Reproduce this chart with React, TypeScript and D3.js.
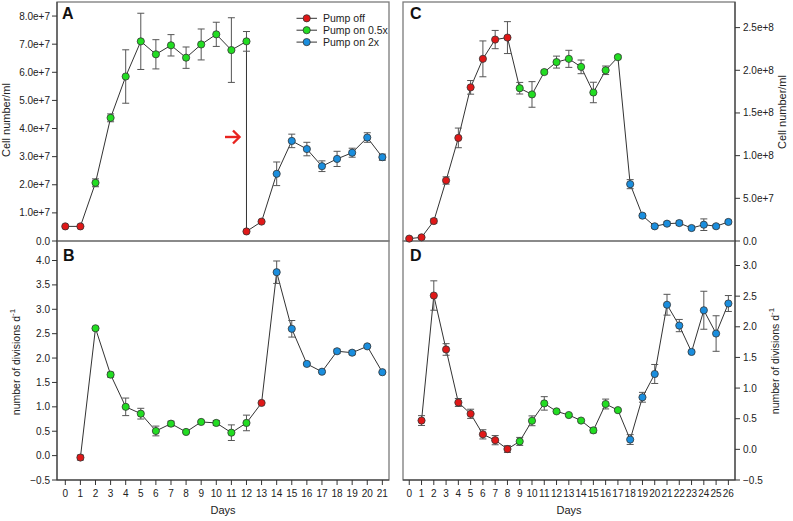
import React from "react";
import * as d3 from "d3";

// ---------- DATA ----------
const aDays = [0, 1, 2, 3, 4, 5, 6, 7, 8, 9, 10, 11, 12, 12, 13, 14, 15, 16, 17, 18, 19, 20, 21];
const aCells = [5.2e6, 5.2e6, 2.07e7, 4.38e7, 5.85e7, 7.1e7, 6.64e7, 6.96e7, 6.52e7, 6.99e7, 7.35e7, 6.79e7, 7.1e7, 3.4e6, 6.9e6, 2.39e7, 3.56e7, 3.27e7, 2.66e7, 2.92e7, 3.14e7, 3.68e7, 2.98e7];
const aErr = [0, 0, 1.4e6, 1.4e6, 9.5e6, 1.0e7, 5.2e6, 3.8e6, 3.8e6, 5.5e6, 4.3e6, 1.15e7, 3.5e6, 0, 0, 4.2e6, 2.4e6, 2.4e6, 1.9e6, 2.7e6, 1.6e6, 1.7e6, 1.1e6];
const aPhase = ["off", "off", "half", "half", "half", "half", "half", "half", "half", "half", "half", "half", "half", "off", "off", "double", "double", "double", "double", "double", "double", "double", "double"];

const bDays = [1, 2, 3, 4, 5, 6, 7, 8, 9, 10, 11, 12, 13, 14, 15, 16, 17, 18, 19, 20, 21];
const bRates = [-0.04, 2.61, 1.66, 1.0, 0.86, 0.505, 0.655, 0.485, 0.69, 0.67, 0.47, 0.67, 1.08, 3.76, 2.6, 1.88, 1.72, 2.14, 2.11, 2.24, 1.71];
const bErr = [0.05, 0.03, 0.05, 0.18, 0.11, 0.1, 0.05, 0.02, 0.02, 0.05, 0.16, 0.16, 0, 0.23, 0.17, 0.02, 0.02, 0.04, 0.04, 0.02, 0.02];
const bPhase = ["off", "half", "half", "half", "half", "half", "half", "half", "half", "half", "half", "half", "off", "double", "double", "double", "double", "double", "double", "double", "double"];

const cDays = [0, 1, 2, 3, 4, 5, 6, 7, 8, 9, 10, 11, 12, 13, 14, 15, 16, 17, 18, 19, 20, 21, 22, 23, 24, 25, 26];
const cCells = [2.8e6, 4.3e6, 2.34e7, 7.09e7, 1.208e8, 1.8e8, 2.134e8, 2.36e8, 2.383e8, 1.79e8, 1.717e8, 1.979e8, 2.096e8, 2.134e8, 2.04e8, 1.74e8, 2.0e8, 2.154e8, 6.66e7, 2.97e7, 1.72e7, 2.03e7, 2.1e7, 1.52e7, 1.91e7, 1.73e7, 2.23e7];
const cErr = [1e6, 1.5e6, 2.5e6, 4.3e6, 1.15e7, 8e6, 2.1e7, 1.07e7, 1.87e7, 6.8e6, 1.5e7, 2e6, 7e6, 1e7, 8e6, 1.2e7, 5e6, 2e6, 5.3e6, 2e6, 2e6, 2e6, 2.5e6, 2e6, 6.8e6, 2e6, 2e6];
const cPhase = ["off", "off", "off", "off", "off", "off", "off", "off", "off", "half", "half", "half", "half", "half", "half", "half", "half", "half", "double", "double", "double", "double", "double", "double", "double", "double", "double"];

const dDays = [1, 2, 3, 4, 5, 6, 7, 8, 9, 10, 11, 12, 13, 14, 15, 16, 17, 18, 19, 20, 21, 22, 23, 24, 25, 26];
const dRates = [0.47, 2.51, 1.63, 0.765, 0.58, 0.245, 0.15, 0.005, 0.13, 0.466, 0.75, 0.62, 0.56, 0.47, 0.31, 0.74, 0.64, 0.16, 0.85, 1.23, 2.36, 2.02, 1.59, 2.27, 1.89, 2.38];
const dErr = [0.08, 0.24, 0.095, 0.065, 0.075, 0.075, 0.075, 0.055, 0.065, 0.08, 0.11, 0.02, 0.02, 0.02, 0.04, 0.08, 0.02, 0.08, 0.08, 0.155, 0.17, 0.1, 0.02, 0.31, 0.29, 0.13];
const dPhase = ["off", "off", "off", "off", "off", "off", "off", "off", "half", "half", "half", "half", "half", "half", "half", "half", "half", "double", "double", "double", "double", "double", "double", "double", "double", "double"];

const abDayTicks = d3.range(0, 22);
const cdDayTicks = d3.range(0, 27);
const aTicks = [0, 1e7, 2e7, 3e7, 4e7, 5e7, 6e7, 7e7, 8e7];
const aTickLabels = ["0.0", "1.0e+7", "2.0e+7", "3.0e+7", "4.0e+7", "5.0e+7", "6.0e+7", "7.0e+7", "8.0e+7"];
const bTicks = [-0.5, 0, 0.5, 1, 1.5, 2, 2.5, 3, 3.5, 4];
const cTicks = [0, 5e7, 1e8, 1.5e8, 2e8, 2.5e8];
const cTickLabels = ["0.0", "5.0e+7", "1.0e+8", "1.5e+8", "2.0e+8", "2.5e+8"];
const dTicks = [-0.5, 0, 0.5, 1, 1.5, 2, 2.5, 3];

const legendLabels = ["Pump off", "Pump on 0.5x", "Pump on 2x"];
const legendKeys = ["off", "half", "double"];

// ---------- STYLE ----------
const COLORS: Record<string, string> = { off: "#e01818", half: "#22dd22", double: "#1a8ede" };
const FONT = "'Liberation Sans', Arial, sans-serif";
const FRAME = "#7a7a7a";
const AXIS = "#333";

const W = 793, H = 521;
const ABL = 57, ABR = 389, CDL = 403, CDR = 735;
const TOP = 2, MID = 241, BOT = 480;

const xAB = d3.scaleLinear().domain([-0.55, 21.44]).range([ABL, ABR]);
const xCD = d3.scaleLinear().domain([-0.51, 26.54]).range([CDL, CDR]);
const yA = d3.scaleLinear().domain([0, 8.5e7]).range([MID, TOP]);
const yB = d3.scaleLinear().domain([-0.5, 4.4]).range([BOT, MID]);
const yC = d3.scaleLinear().domain([0, 2.8e8]).range([MID, TOP]);
const yD = d3.scaleLinear().domain([-0.5, 3.4]).range([BOT, MID]);

type S = { days: number[]; vals: number[]; err: number[]; phase: string[] };

function Series({ s, x, y }: { s: S; x: d3.ScaleLinear<number, number>; y: d3.ScaleLinear<number, number> }) {
  const pts = s.days.map((d, i) => ({ d, v: s.vals[i], e: s.err[i], p: s.phase[i] }));
  const line = d3.line<typeof pts[0]>().x((p) => x(p.d)).y((p) => y(p.v));
  return (
    <g>
      <path d={line(pts) || ""} fill="none" stroke="#333" strokeWidth={1} />
      {pts.map((p, i) =>
        p.e > 0 ? (
          <g key={"e" + i} stroke="#555" strokeWidth={1}>
            <line x1={x(p.d)} x2={x(p.d)} y1={y(p.v - p.e)} y2={y(p.v + p.e)} />
            <line x1={x(p.d) - 3.5} x2={x(p.d) + 3.5} y1={y(p.v - p.e)} y2={y(p.v - p.e)} />
            <line x1={x(p.d) - 3.5} x2={x(p.d) + 3.5} y1={y(p.v + p.e)} y2={y(p.v + p.e)} />
          </g>
        ) : null
      )}
      {pts.map((p, i) => (
        <circle key={"c" + i} cx={x(p.d)} cy={y(p.v)} r={3.6} fill={COLORS[p.p]} stroke="#333" strokeWidth={0.8} />
      ))}
    </g>
  );
}

function YAxisLeft({ ticks, labels, y, xPos }: { ticks: number[]; labels: string[]; y: any; xPos: number }) {
  return (
    <g>
      {ticks.map((t, i) => (
        <g key={i}>
          <line x1={xPos - 5} x2={xPos} y1={y(t)} y2={y(t)} stroke={AXIS} strokeWidth={1} />
          <text x={xPos - 7} y={y(t)} dy="0.35em" textAnchor="end" fontSize={10} fontFamily={FONT} fill="#222">
            {labels[i]}
          </text>
        </g>
      ))}
    </g>
  );
}

function YAxisRight({ ticks, labels, y, xPos }: { ticks: number[]; labels: string[]; y: any; xPos: number }) {
  return (
    <g>
      {ticks.map((t, i) => (
        <g key={i}>
          <line x1={xPos} x2={xPos + 5} y1={y(t)} y2={y(t)} stroke={AXIS} strokeWidth={1} />
          <text x={xPos + 8} y={y(t)} dy="0.35em" textAnchor="start" fontSize={10} fontFamily={FONT} fill="#222">
            {labels[i]}
          </text>
        </g>
      ))}
    </g>
  );
}

function XAxis({ ticks, x, yPos }: { ticks: number[]; x: any; yPos: number }) {
  return (
    <g>
      {ticks.map((t) => (
        <g key={t}>
          <line x1={x(t)} x2={x(t)} y1={yPos} y2={yPos + 5} stroke={AXIS} strokeWidth={1} />
          <text x={x(t)} y={yPos + 17} textAnchor="middle" fontSize={10} fontFamily={FONT} fill="#222">
            {t}
          </text>
        </g>
      ))}
    </g>
  );
}

export default function App() {
  const fmtRate = (v: number) => d3.format(".1f")(v);
  return (
    <svg width={W} height={H} style={{ position: "absolute", left: 0, top: 0, background: "#fff" }}>
      <rect x={0} y={0} width={W} height={H} fill="#fff" />
      {/* Frames */}
      <g fill="none" stroke={FRAME} strokeWidth={1.3}>
        <rect x={ABL} y={TOP} width={ABR - ABL} height={MID - TOP} />
        <rect x={ABL} y={MID} width={ABR - ABL} height={BOT - MID} />
        <rect x={CDL} y={TOP} width={CDR - CDL} height={MID - TOP} />
        <rect x={CDL} y={MID} width={CDR - CDL} height={BOT - MID} />
      </g>
      <g stroke={AXIS} strokeWidth={1}>
        <line x1={ABL} x2={ABL} y1={TOP} y2={BOT} />
        <line x1={ABL} x2={ABR} y1={BOT} y2={BOT} />
        <line x1={CDR} x2={CDR} y1={TOP} y2={BOT} />
        <line x1={CDL} x2={CDR} y1={BOT} y2={BOT} />
      </g>

      {/* Axes */}
      <YAxisLeft ticks={aTicks} labels={aTickLabels} y={yA} xPos={ABL} />
      <YAxisLeft ticks={bTicks} labels={bTicks.map(fmtRate)} y={yB} xPos={ABL} />
      <YAxisRight ticks={cTicks} labels={cTickLabels} y={yC} xPos={CDR} />
      <YAxisRight ticks={dTicks} labels={dTicks.map(fmtRate)} y={yD} xPos={CDR} />
      <XAxis ticks={abDayTicks} x={xAB} yPos={BOT} />
      <XAxis ticks={cdDayTicks} x={xCD} yPos={BOT} />

      {/* Axis titles */}
      <g fontFamily={FONT} fontSize={11} fill="#222">
        <text transform="translate(10,120) rotate(-90)" textAnchor="middle">Cell number/ml</text>
        <text transform="translate(20,362) rotate(-90)" textAnchor="middle" fontSize={10.5}>
          number of divisions d<tspan dy="-5" fontSize={8}>-1</tspan>
        </text>
        <text transform="translate(786,112) rotate(-90)" textAnchor="middle">Cell number/ml</text>
        <text transform="translate(779,361) rotate(-90)" textAnchor="middle" fontSize={10.5}>
          number of divisions d<tspan dy="-5" fontSize={8}>-1</tspan>
        </text>
        <text x={223} y={514} textAnchor="middle">Days</text>
        <text x={569} y={514} textAnchor="middle">Days</text>
      </g>

      {/* Panel letters */}
      <g fontFamily={FONT} fontSize={16} fontWeight="bold" fill="#111">
        <text x={62} y={19}>A</text>
        <text x={63} y={261}>B</text>
        <text x={410} y={19}>C</text>
        <text x={410} y={261}>D</text>
      </g>

      {/* Data */}
      <Series s={{ days: aDays, vals: aCells, err: aErr, phase: aPhase }} x={xAB} y={yA} />
      <Series s={{ days: bDays, vals: bRates, err: bErr, phase: bPhase }} x={xAB} y={yB} />
      <Series s={{ days: cDays, vals: cCells, err: cErr, phase: cPhase }} x={xCD} y={yC} />
      <Series s={{ days: dDays, vals: dRates, err: dErr, phase: dPhase }} x={xCD} y={yD} />

      {/* Arrow */}
      <g stroke="#e8231f" strokeWidth={2.4} fill="none" strokeLinecap="butt">
        <line x1={225} x2={239} y1={137} y2={137} />
        <path d="M233,130.5 L239.5,137 L233,143.5" />
      </g>

      {/* Legend */}
      <g fontFamily={FONT} fontSize={10.5} fill="#222">
        {legendKeys.map((k, i) => (
          <g key={k} transform={`translate(0,${18.3 + i * 11.9})`}>
            <line x1={296.5} x2={317} y1={0} y2={0} stroke="#333" strokeWidth={1} />
            <circle cx={306.7} cy={0} r={3.6} fill={COLORS[k]} stroke="#333" strokeWidth={0.8} />
            <text x={323} y={0} dy="0.35em">{legendLabels[i]}</text>
          </g>
        ))}
      </g>
    </svg>
  );
}
